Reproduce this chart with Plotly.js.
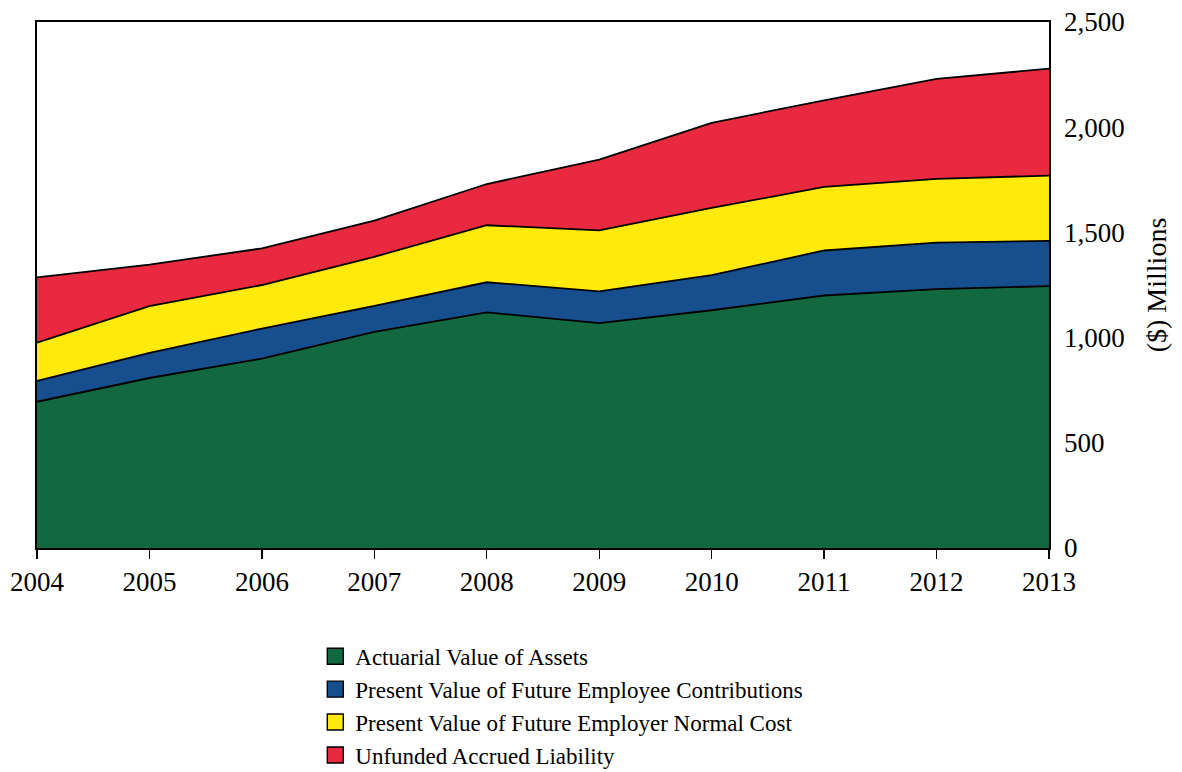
<!DOCTYPE html>
<html>
<head>
<meta charset="utf-8">
<script src="https://cdn.plot.ly/plotly-3.0.1.min.js"></script>
<style>
  html, body { margin: 0; padding: 0; background: #ffffff; }
  #chart { width: 1182px; height: 772px; }
</style>
</head>
<body>
<div id="chart"></div>
<script>
// Data (values in $ millions)
var years = [2004, 2005, 2006, 2007, 2008, 2009, 2010, 2011, 2012, 2013];
var actuarialAssets      = [695, 808, 900, 1027, 1120, 1069, 1130, 1200, 1230, 1245];
var employeeContribs     = [99, 119, 143, 124, 143, 151, 167, 214, 221, 215];
var employerNormalCost   = [182, 223, 207, 233, 271, 290, 319, 302, 303, 310];
var unfundedLiability    = [310, 197, 174, 172, 196, 336, 405, 412, 476, 508];
var seriesNames = [
  'Actuarial Value of Assets',
  'Present Value of Future Employee Contributions',
  'Present Value of Future Employer Normal Cost',
  'Unfunded Accrued Liability'
];
var yTicks = [0, 500, 1000, 1500, 2000, 2500];

var colors = ['#12693f', '#174e8e', '#ffea0a', '#e8293f'];
var seriesValues = [actuarialAssets, employeeContribs, employerNormalCost, unfundedLiability];

var traces = [];
seriesValues.forEach(function (vals, i) {
  traces.push({
    type: 'scatter',
    mode: 'lines',
    x: years,
    y: vals,
    stackgroup: 'one',
    name: seriesNames[i],
    line: { color: '#000000', width: 1.8 },
    fillcolor: colors[i],
    showlegend: false,
    hoverinfo: 'x+y+name'
  });
});
// legend entries (square swatches)
seriesValues.forEach(function (vals, i) {
  traces.push({
    type: 'scatter',
    mode: 'markers',
    x: [null],
    y: [null],
    name: seriesNames[i],
    marker: { symbol: 'square', size: 16, color: colors[i], line: { color: '#000000', width: 1.4 } },
    showlegend: true,
    hoverinfo: 'skip'
  });
});

var serif = '"Liberation Serif", "Times New Roman", serif';
var layout = {
  width: 1182,
  height: 772,
  margin: { l: 37, r: 133, t: 22, b: 224, autoexpand: false },
  paper_bgcolor: '#ffffff',
  plot_bgcolor: '#ffffff',
  font: { family: serif, size: 26, color: '#000000' },
  showlegend: true,
  legend: {
    x: 0.275, xanchor: 'left',
    y: -0.165, yanchor: 'top',
    traceorder: 'normal',
    font: { family: serif, size: 23, color: '#000000' },
    bgcolor: 'rgba(0,0,0,0)',
    itemwidth: 30
  },
  xaxis: {
    range: [2004, 2013],
    tickmode: 'array',
    tickvals: years,
    ticktext: years.map(String),
    ticks: 'outside',
    ticklen: 9,
    tickwidth: 1.3,
    tickcolor: '#000000',
    showgrid: false,
    zeroline: false,
    showline: true,
    linecolor: '#000000',
    linewidth: 1.6,
    mirror: true,
    tickfont: { size: 27 }
  },
  yaxis: {
    side: 'right',
    range: [0, 2500],
    tickmode: 'array',
    tickvals: yTicks,
    tickformat: ',d',
    ticks: '',
    ticklabelstandoff: 8,
    showgrid: false,
    zeroline: false,
    showline: true,
    linecolor: '#000000',
    linewidth: 1.6,
    mirror: true,
    tickfont: { size: 27 },
    title: { text: '($) Millions', font: { size: 28 }, standoff: 22 }
  }
};

Plotly.newPlot('chart', traces, layout, { displayModeBar: false, staticPlot: true });
</script>
</body>
</html>
